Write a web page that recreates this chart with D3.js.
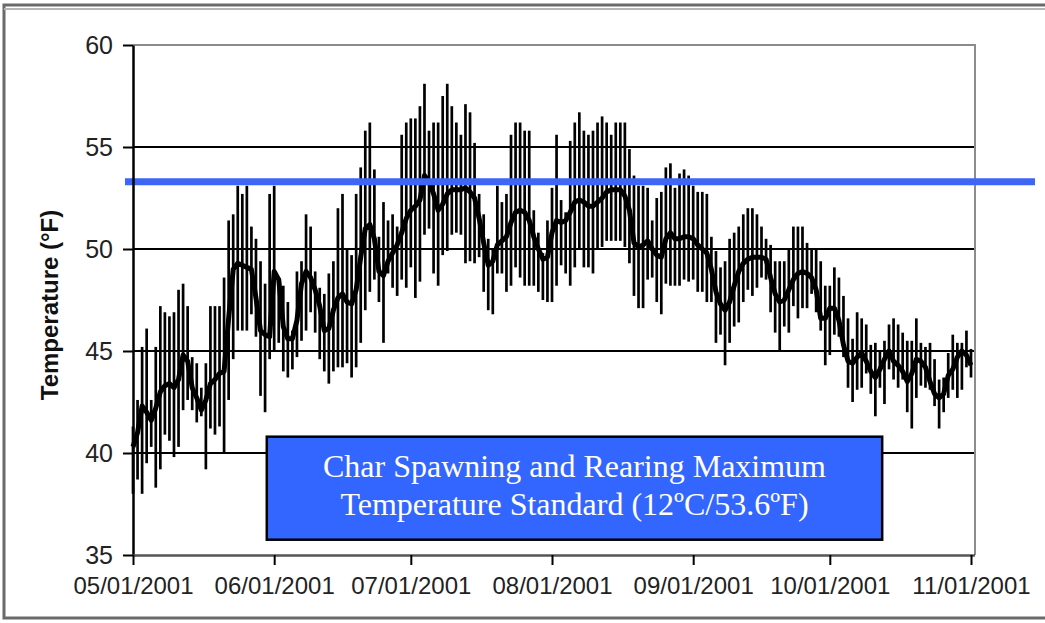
<!DOCTYPE html>
<html>
<head>
<meta charset="utf-8">
<script src="https://cdn.jsdelivr.net/npm/d3@7"></script>
<style>
  html, body { margin: 0; padding: 0; background: #fff; }
  svg { display: block; }
</style>
</head>
<body>
<svg id="chart" width="1045" height="623"></svg>
<script>
// ---------- data ----------
const startDate = "2001-05-01";
const xTickLabels = ["05/01/2001","06/01/2001","07/01/2001","08/01/2001","09/01/2001","10/01/2001","11/01/2001"];
const yTickValues = [35, 40, 45, 50, 55, 60];
const standardValue = 53.3;
const standardLabel = ["Char Spawning and Rearing Maximum", "Temperature Standard (12\u00BAC/53.6\u00BAF)"];
const yTitle = "Temperature (\u00B0F)";

const tMax = [
41.3,42.6,45.2,46.1,42.6,45.2,47.2,46.9,46.7,46.9,48.0,48.3,47.2,44.7,44.4,43.2,44.4,47.2,47.2,47.2,
48.6,51.4,51.7,53.1,52.7,53.1,51.1,50.5,49.4,48.3,52.7,53.1,48.6,48.2,47.4,46.0,48.9,49.4,51.7,51.1,
48.9,48.1,47.8,48.8,49.4,52.0,52.7,50.0,49.7,52.7,54.0,55.8,56.2,53.9,50.6,52.3,51.4,51.7,51.1,55.6,
56.2,56.4,56.4,57.0,58.1,55.8,56.2,56.2,57.5,58.1,57.0,56.2,55.6,57.1,56.7,55.2,52.7,51.7,50.5,50.0,
53.1,52.3,52.7,55.6,56.2,56.2,55.8,55.8,51.9,50.8,49.8,51.4,53.0,55.6,52.4,51.8,55.3,56.2,56.7,55.8,
55.6,55.8,56.2,56.5,56.2,55.6,56.2,56.2,56.2,54.9,53.6,53.1,53.1,53.0,51.4,52.5,52.8,54.0,54.2,53.0,
53.7,53.9,53.6,53.1,52.8,52.8,52.7,50.6,49.9,49.1,49.4,50.5,50.8,51.1,51.7,52.0,52.0,51.7,51.1,50.5,
50.2,49.4,49.4,49.4,50.0,51.1,51.1,51.1,50.3,50.0,50.0,49.4,48.2,48.2,49.1,48.6,47.7,46.6,45.6,46.9,
46.6,46.3,45.3,45.4,45.0,45.5,46.3,46.6,46.3,45.9,45.5,45.5,46.6,45.4,45.2,45.4,44.6,43.6,43.7,44.9,
45.8,45.4,45.4,46.0,45.1
];
const tMin = [
38.0,38.7,38.0,39.5,40.3,38.3,39.2,40.9,40.6,39.8,40.3,42.1,42.6,42.1,41.5,41.8,39.2,41.2,40.9,41.3,
40.0,42.6,44.6,46.0,46.0,46.0,46.8,45.7,42.8,42.0,44.6,45.0,45.4,44.0,43.7,44.1,44.7,45.5,46.0,46.9,
45.9,44.6,44.0,43.4,44.0,44.2,44.2,44.4,43.7,44.2,45.4,47.0,47.9,48.5,47.4,45.4,48.8,48.1,47.7,48.5,
48.1,49.1,47.6,48.4,50.7,51.0,48.8,48.2,49.7,49.9,50.7,50.8,50.7,49.3,49.4,49.3,49.6,47.9,47.0,46.8,
48.8,48.8,47.9,48.2,49.1,48.6,48.2,48.2,48.2,47.9,47.5,47.4,47.4,48.2,49.2,48.8,48.2,49.1,50.0,49.1,
49.1,48.8,50.0,50.1,50.4,50.4,50.4,50.4,50.1,49.3,47.7,47.1,47.1,48.5,48.6,47.4,46.8,48.3,48.2,48.2,
48.2,48.5,48.4,48.5,47.9,47.9,47.4,47.4,45.4,45.8,44.3,45.4,46.2,46.4,47.4,48.0,47.7,48.1,48.6,48.5,
46.9,45.9,45.0,46.2,45.9,47.2,46.6,47.1,47.1,47.8,46.9,46.0,44.3,44.8,45.8,45.7,44.7,43.2,42.5,43.1,
43.2,43.9,42.9,41.8,43.2,42.4,44.1,43.6,43.2,43.6,42.0,41.2,42.7,43.3,43.2,43.1,42.3,41.2,42.0,42.7,
43.1,42.7,43.1,44.2,43.7
];
const tMean = [
40.3,41.0,42.3,42.0,41.6,42.2,43.0,43.3,43.4,43.2,43.6,44.8,44.5,43.2,42.7,42.1,42.6,43.4,43.6,43.9,
44.0,46.6,49.0,49.3,49.2,49.1,49.0,47.6,46.0,45.8,45.7,48.9,48.5,46.2,45.6,45.6,46.5,48.3,48.9,48.6,
48.0,47.2,46.0,46.1,47.0,47.6,47.8,47.4,47.3,48.0,49.6,51.0,51.2,50.5,48.9,48.7,49.4,49.8,50.2,50.8,
51.5,51.9,52.1,52.4,53.6,53.3,52.7,51.9,52.2,52.7,52.9,52.9,52.9,53.0,52.8,52.5,51.5,50.3,49.2,49.4,
50.2,50.4,50.6,51.3,51.8,51.9,51.8,51.4,50.6,50.0,49.5,49.6,50.8,51.4,51.3,51.4,51.8,52.3,52.4,52.3,
52.1,52.1,52.3,52.5,52.8,52.9,52.9,52.9,52.6,51.9,50.3,50.1,50.2,50.4,50.0,49.7,49.6,50.5,50.8,50.5,
50.5,50.6,50.6,50.5,50.2,50.0,49.8,49.0,47.9,47.3,47.0,47.4,48.2,48.9,49.3,49.5,49.6,49.6,49.6,49.5,
48.6,47.8,47.4,47.5,48.0,48.5,48.8,48.9,48.8,48.6,48.0,46.6,46.6,47.1,47.1,46.5,45.3,44.5,44.4,44.7,
44.9,44.5,44.0,43.7,44.1,44.6,45.0,44.5,44.3,44.0,43.5,43.9,44.6,44.5,44.2,43.5,42.9,42.7,42.9,43.8,
44.1,44.7,45.0,44.8,44.3
];

// ---------- layout ----------
const svg = d3.select("#chart");
const parseTick = d3.timeParse("%m/%d/%Y");
const start = d3.timeParse("%Y-%m-%d")(startDate);
const days = tMax.map((_, i) => d3.timeDay.offset(start, i));
const tickDates = xTickLabels.map(parseTick);

const plotL = 133, plotR = 975, plotT = 45, plotB = 555;
const x = d3.scaleTime().domain([tickDates[0], tickDates[tickDates.length - 1]]).range([plotL, 971]);
const y = d3.scaleLinear().domain([35, 60]).range([plotB, plotT]);

// outer frame
svg.append("rect").attr("x", 4).attr("y", 5).attr("width", 1100).attr("height", 613)
  .attr("fill", "none").attr("stroke", "#6a6a6a").attr("stroke-width", 3);
svg.append("line").attr("x1", 4).attr("x2", 1045).attr("y1", 9).attr("y2", 9)
  .attr("stroke", "#b5b5b5").attr("stroke-width", 2);

// gridlines
svg.append("g").selectAll("line").data(yTickValues.filter(v => v > 35 && v < 60)).join("line")
  .attr("x1", plotL).attr("x2", plotR)
  .attr("y1", d => y(d)).attr("y2", d => y(d))
  .attr("stroke", "#000").attr("stroke-width", 2);

// plot border (top / right)
svg.append("path")
  .attr("d", `M${plotL},${y(60)}H${plotR}V${plotB}`)
  .attr("fill", "none").attr("stroke", "#8c8c8c").attr("stroke-width", 2);

// min-max bars
svg.append("g").selectAll("line").data(days).join("line")
  .attr("x1", d => x(d)).attr("x2", d => x(d))
  .attr("y1", (d, i) => y(tMax[i])).attr("y2", (d, i) => y(tMin[i]))
  .attr("stroke", "#000").attr("stroke-width", 2.7);

// mean line
svg.append("path")
  .datum(days)
  .attr("d", d3.line().x(d => x(d)).y((d, i) => y(tMean[i])))
  .attr("fill", "none").attr("stroke", "#000").attr("stroke-width", 5)
  .attr("stroke-linejoin", "round");

// standard line
svg.append("line")
  .attr("x1", 125).attr("x2", 1035)
  .attr("y1", y(standardValue)).attr("y2", y(standardValue))
  .attr("stroke", "#3d66f5").attr("stroke-width", 7);

// label box
const boxX0 = x(d3.timeHour.offset(start, 29.4 * 24));
const boxX1 = x(d3.timeHour.offset(start, 164.5 * 24));
const boxY0 = y(40.8), boxY1 = y(35.75);
const boxCx = (boxX0 + boxX1) / 2;
svg.append("rect")
  .attr("x", boxX0).attr("y", boxY0)
  .attr("width", boxX1 - boxX0).attr("height", boxY1 - boxY0)
  .attr("fill", "#3366ff").attr("stroke", "#000").attr("stroke-width", 2.5);
const tx = svg.append("text")
  .attr("x", boxCx).attr("y", boxY0 + 40)
  .attr("text-anchor", "middle")
  .attr("font-family", "'Liberation Serif', 'Times New Roman', serif")
  .attr("font-size", 32).attr("fill", "#fff");
standardLabel.forEach((s, i) => {
  tx.append("tspan").attr("x", boxCx).attr("dy", i === 0 ? 0 : 38).text(s);
});

// axes
const yAxis = svg.append("g").attr("transform", `translate(${plotL},0)`)
  .call(d3.axisLeft(y).tickValues(yTickValues).tickSize(10).tickPadding(10).tickSizeOuter(0));
yAxis.select(".domain").attr("stroke", "#000").attr("stroke-width", 2.5);
yAxis.selectAll(".tick line").attr("stroke", "#000").attr("stroke-width", 2);
yAxis.selectAll(".tick text")
  .attr("font-family", "'Liberation Sans', Arial, sans-serif")
  .attr("font-size", 25).attr("fill", "#222");

const xAxis = svg.append("g").attr("transform", `translate(0,${plotB})`)
  .call(d3.axisBottom(x).tickValues(tickDates).tickFormat((d, i) => xTickLabels[i])
    .tickSize(10).tickPadding(12).tickSizeOuter(0));
xAxis.select(".domain").attr("d", `M${plotL},0.5H${plotR}`)
  .attr("stroke", "#555").attr("stroke-width", 2.5);
xAxis.selectAll(".tick line").attr("stroke", "#000").attr("stroke-width", 2);
xAxis.selectAll(".tick text")
  .attr("font-family", "'Liberation Sans', Arial, sans-serif")
  .attr("font-size", 24).attr("fill", "#222");

// y title
svg.append("text")
  .attr("transform", `translate(58,305) rotate(-90)`)
  .attr("text-anchor", "middle")
  .attr("font-family", "'Liberation Sans', Arial, sans-serif")
  .attr("font-weight", "bold").attr("font-size", 24).attr("fill", "#111")
  .text(yTitle);
</script>
</body>
</html>
